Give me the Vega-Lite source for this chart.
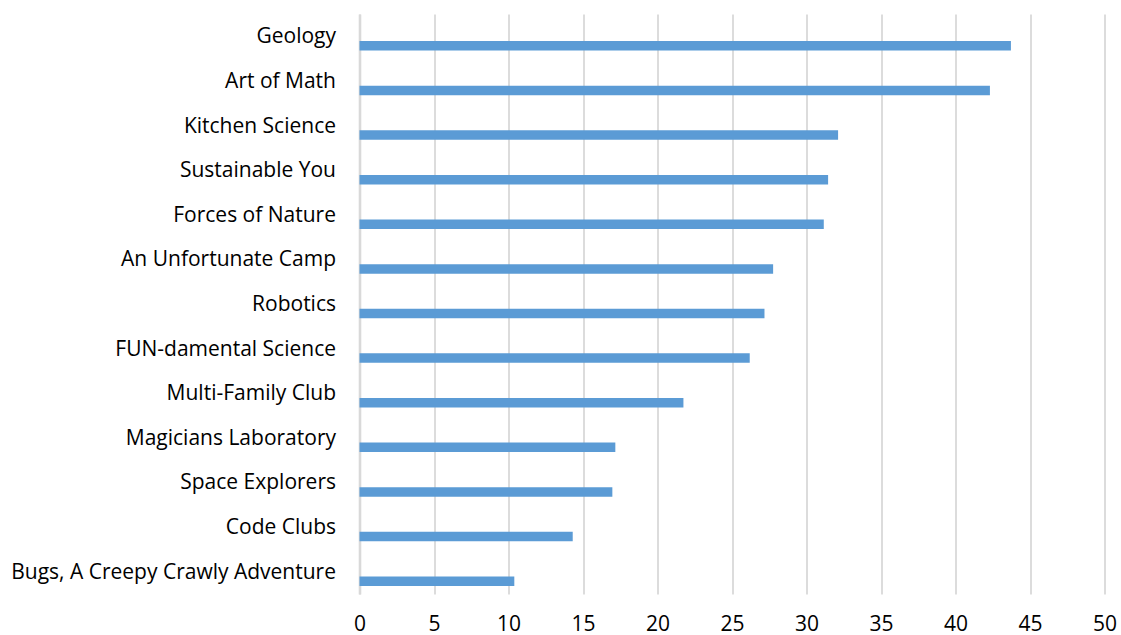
{
  "$schema": "https://vega.github.io/schema/vega-lite/v6.json",
  "width": 745,
  "height": 580,
  "autosize": {"type": "none"},
  "padding": {"left": 359.5, "top": 14, "right": 16.5, "bottom": 41},
  "background": "white",
  "data": {
    "values": [
      {"activity": "Geology", "value": 43.72},
      {"activity": "Art of Math", "value": 42.31},
      {"activity": "Kitchen Science", "value": 32.12},
      {"activity": "Sustainable You", "value": 31.45},
      {"activity": "Forces of Nature", "value": 31.16},
      {"activity": "An Unfortunate Camp", "value": 27.76},
      {"activity": "Robotics", "value": 27.18},
      {"activity": "FUN-damental Science", "value": 26.19},
      {"activity": "Multi-Family Club", "value": 21.74},
      {"activity": "Magicians Laboratory", "value": 17.17},
      {"activity": "Space Explorers", "value": 16.97},
      {"activity": "Code Clubs", "value": 14.31},
      {"activity": "Bugs, A Creepy Crawly Adventure", "value": 10.39}
    ]
  },
  "mark": {"type": "bar", "height": 9.5, "yOffset": 9.5, "color": "#5B9BD5"},
  "encoding": {
    "y": {
      "field": "activity",
      "type": "nominal",
      "sort": null,
      "scale": {"paddingInner": 0, "paddingOuter": 0},
      "axis": {
        "title": null,
        "ticks": false,
        "grid": false,
        "domain": true,
        "domainColor": "#d9d9d9",
        "domainWidth": 2.6,
        "labelPadding": 24,
        "labelFont": "Open Sans",
        "labelFontSize": 21,
        "labelColor": "#000000",
        "labelLimit": 400,
        "labelOffset": 1
      }
    },
    "x": {
      "field": "value",
      "type": "quantitative",
      "scale": {"domain": [0, 50], "nice": false},
      "axis": {
        "title": null,
        "values": [0, 5, 10, 15, 20, 25, 30, 35, 40, 45, 50],
        "ticks": false,
        "domain": false,
        "grid": true,
        "gridColor": "#d9d9d9",
        "gridWidth": 1.8,
        "labelPadding": 19,
        "labelFont": "Open Sans",
        "labelFontSize": 21,
        "labelColor": "#000000",
        "labelFlush": false
      }
    }
  },
  "config": {"view": {"stroke": null}}
}
